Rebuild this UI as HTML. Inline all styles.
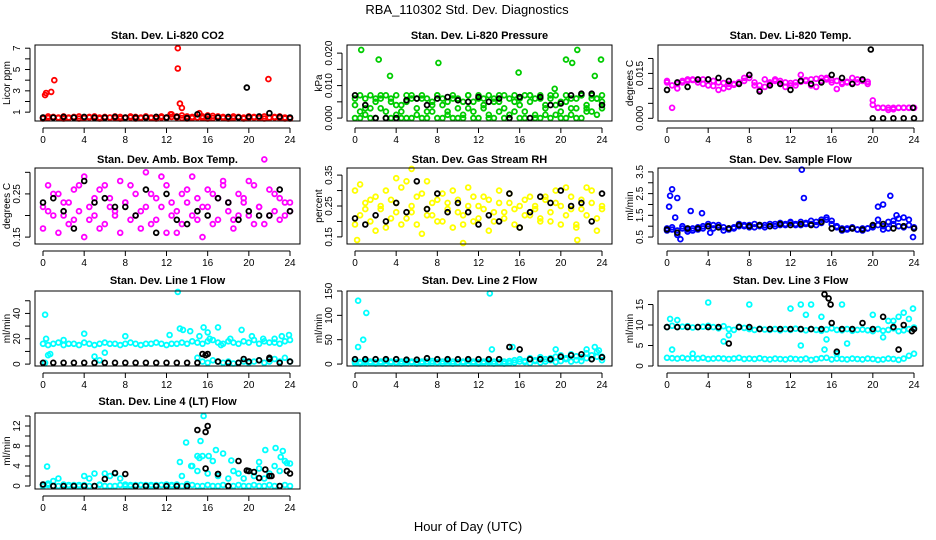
<!DOCTYPE html>
<html><head><meta charset="utf-8"><style>
html,body{margin:0;padding:0;background:#fff;}
svg{display:block;font-family:"Liberation Sans",sans-serif;}
</style></head><body>
<svg id="chart" width="936" height="540" viewBox="0 0 936 540" xmlns="http://www.w3.org/2000/svg">
<text x="467" y="14" font-size="13" text-anchor="middle">RBA_110302  Std. Dev. Diagnostics</text>
<text x="468" y="531" font-size="13" text-anchor="middle">Hour of Day (UTC)</text>
</svg>
<script>
// ---- data ----
const hourTicks=[0,4,8,12,16,20,24];
const co2Red=[0.5,0.6,0.55,0.5,0.6,0.5,0.55,0.6,0.5,0.55,0.6,0.5,0.55,0.5,0.6,0.55,0.5,0.6,0.55,0.5,0.6,0.5,0.55,0.6,0.5,0.55,0.6,0.7,0.6,0.55,0.5,0.6,0.7,0.65,0.6,0.55,0.5,0.6,0.55,0.5,0.6,0.55,0.5,0.6,0.5,0.55,0.6,0.5,0.45];
const co2Red2=[0.4,0.45,0.5,0.45,0.4,0.45,0.5,0.4,0.45,0.5,0.45,0.4,0.45,0.5,0.45,0.4,0.45,0.5,0.4,0.45,0.5,0.45,0.4,0.5,0.45,0.8,0.5,0.45,0.4,0.45,0.5,0.45,0.4,0.45,0.5,0.45,0.4,0.45,0.5,0.4,0.45,0.5,0.45,0.4,0.45,0.5,0.45,0.4,0.4];
const co2RedOutT=[0.2,0.3,0.8,1.1,13.1,13.1,13.3,13.5,21.9,12.4,15.2];
const co2RedOutV=[2.6,2.8,2.9,4.0,7.0,5.1,1.8,1.4,4.1,0.8,0.9];
const co2Black=[0.5,0.5,0.55,0.5,0.55,0.5,0.5,0.55,0.5,0.5,0.5,0.55,0.5,0.55,0.45,0.8,0.6,0.5,0.55,0.5,0.55,0.6,0.9,0.55,0.5];
const co2BlackOutT=[19.8];
const co2BlackOutV=[3.3];

const presGreen=[.004,.002,.006,.003,.005,.007,.002,.006,.001,.004,.005,.007,.003,.006,.002,.005,.007,.004,.001,.006,.003,.005,.007,.002,.006,.004,.001,.005,.007,.003,.006,.002,.004,.007,.005,.001,.006,.003,.007,.004,.002,.005,.006,.003,.007,.004,.002,.006,.005];
const presGreen2=[0,0,.003,0,0,.006,0,0,.004,0,0,0,.006,0,0,.002,0,0,.005,0,0,0,.003,0,0,.006,0,0,.002,0,0,.005,0,0,.007,0,0,.004,0,.001,0,0,.003,0,0,.002,.006,.001,.003];
const presGreen3=[.006,.007,.001,.007,.006,.003,.007,.005,.007,.002,.007,.006,.001,.007,.006,.004,.007,.006,.002,.007,.006,.001,.007,.005,.007,.003,.007,.006,.005,.007,.001,.007,.006,.002,.007,.006,.007,.001,.006,.007,.005,.007,.001,.006,.007,.003,.007,.006,.007];
const presOutT=[0.6,2.3,3.4,8.1,15.9,19.4,20.5,21.1,21.6,23.3,23.9];
const presOutV=[.021,.018,.013,.017,.014,.009,.018,.017,.021,.013,.018];
const presBlack=[.007,.004,0,0,0,.0055,.006,.004,.006,.0065,.0055,.005,.0065,.005,.006,0,.0065,0,.0065,.004,.0045,.007,.0075,.0075,.004];

const tempMag=[0.012,0.011,0.0115,0.012,0.0125,0.013,0.0128,0.013,0.013,0.0125,0.012,0.0118,0.0115,0.0112,0.012,0.0125,0.0135,0.012,0.011,0.0105,0.0115,0.013,0.0125,0.012,0.0118,0.011,0.0122,0.0128,0.013,0.0132,0.0135,0.013,0.0128,0.0125,0.012,0.0122,0.0118,0.012,0.0125,0.0122,0.006,0.0035,0.0035,0.0035,0.003,0.0035,0.0035,0.0035,0.0035];
const tempMag2=[0.0125,0.0035,0.010,0.0125,0.013,0.0128,0.012,0.0115,0.011,0.0108,0.0095,0.01,0.0105,0.0115,0.012,0.0135,0.0145,0.011,0.0095,0.013,0.012,0.0125,0.0118,0.0105,0.011,0.012,0.0145,0.0125,0.011,0.0105,0.0125,0.0135,0.012,0.0098,0.0115,0.012,0.0135,0.013,0.0128,0.0115,0.0045,0.0035,0.0035,0.0028,0.0035,0.0035,0.0035,0.0035,0.0035];
const tempBlack=[.0095,.012,.0105,.013,.013,.0135,.0125,.0115,.0145,.009,.011,.0115,.0095,.0125,.0115,.012,.0145,.0135,.0115,.013,0,0,0,0,0];
const tempBlackOutT=[19.8,23.9];
const tempBlackOutV=[.023,.0035];

const ambMag1=[.22,.27,.2,.25,.23,.18,.26,.21,.29,.19,.24,.17,.27,.22,.2,.28,.23,.19,.25,.21,.3,.18,.24,.22,.27,.2,.16,.25,.23,.29,.19,.22,.26,.18,.24,.28,.21,.19,.25,.23,.2,.27,.22,.18,.26,.21,.24,.2,.23];
const ambMag2=[.17,.21,.25,.16,.2,.23,.19,.27,.15,.22,.2,.26,.18,.24,.21,.16,.23,.27,.2,.17,.22,.25,.19,.29,.16,.23,.21,.18,.26,.2,.24,.15,.22,.25,.19,.27,.23,.17,.2,.24,.28,.18,.22,.33,.2,.25,.19,.23,.21];
const ambBlack=[.23,.24,.21,.17,.28,.23,.24,.22,.22,.2,.26,.16,.25,.19,.18,.21,.2,.24,.23,.19,.21,.2,.2,.26,.21];

const rh1=[.3,.22,.26,.2,.28,.24,.18,.27,.23,.31,.21,.25,.19,.29,.24,.22,.27,.2,.26,.3,.23,.19,.25,.28,.21,.24,.27,.2,.3,.23,.26,.19,.25,.22,.28,.24,.21,.27,.2,.3,.25,.22,.28,.19,.24,.31,.26,.21,.25];
const rh2=[.19,.32,.24,.27,.17,.25,.3,.21,.26,.19,.33,.23,.28,.16,.22,.26,.2,.29,.24,.18,.27,.22,.31,.2,.25,.28,.17,.23,.26,.21,.29,.24,.18,.27,.22,.25,.2,.28,.23,.26,.19,.31,.24,.18,.27,.22,.3,.17,.24];
const rhOutT=[0.2,4.0,5.5,10.5,21.6,7.0];
const rhOutV=[.14,.34,.37,.13,.14,.33];
const rhBlack=[.21,.19,.22,.2,.26,.23,.33,.24,.29,.23,.26,.23,.19,.22,.2,.29,.18,.23,.28,.26,.3,.25,.26,.2,.29];

const sf1=[.9,.85,.8,.9,.75,.9,.85,.9,1.0,1.05,.95,.8,.9,.95,1.0,1.0,1.05,.95,1.0,1.05,1.0,1.1,1.05,1.1,1.15,1.1,1.05,1.15,1.1,1.2,1.15,1.3,1.1,.95,.9,.85,.9,.85,.9,.9,.95,1.05,1.0,.9,1.1,1.0,.95,1.05,.9];
const sf2=[.8,.95,.6,1.0,.85,.8,.95,1.0,1.1,.9,1.05,.95,.85,.9,1.1,1.05,.95,1.1,1.05,.95,1.1,1.0,1.15,1.05,1.2,1.05,1.2,1.1,1.25,1.05,1.3,1.4,1.25,1.0,.8,.9,.95,.85,.8,.9,1.0,1.3,.85,1.2,1.25,1.35,1.4,1.3,.95];
const sfOutT=[0.2,0.3,0.5,0.8,1.0,1.3,2.3,3.4,4.2,13.1,13.3,20.5,21.0,21.7,22.3,23.9];
const sfOutV=[1.9,2.4,2.7,1.4,2.3,.4,1.7,1.6,.7,3.6,2.3,1.9,2.0,2.4,1.5,.5];
const sfBlack=[.85,.7,.9,.9,1.0,.95,.9,1.05,1.0,1.05,1.0,1.1,1.05,1.1,1.05,1.2,.9,.85,.9,.85,1.05,1.1,.9,1.0,.9];

const l1Cyan=[16,15,16,17,15,16,16,15,17,16,15,16,17,16,16,15,16,17,16,15,16,16,17,16,15,16,16,17,16,18,17,16,18,19,17,16,18,17,16,18,17,19,16,18,17,20,16,18,19];
const l1LowT=[15,15.5,16,16.5,17,17.5,18,18.5,19,19.5,20,20.5,21,21.5,22,22.5,23,23.5,24,0.2,0.3,0.5,0.7,5,5.5,6];
const l1LowV=[5,2,1,3,2,1,2,0.5,1,2,1,2,3,1,2,4,2,5,2,1,20,7,8,6,3,9];
const l1OutT=[0.2,2,4,8,12.3,13.1,13.3,13.6,14.3,15.2,15.6,16.0,16.2,17.0,17.3,18.2,19.3,20.3,21.4,22.5,23.2,23.9];
const l1OutV=[39,19,24,22,23,57,28,27,26,22,29,25,20,29,15,20,27,22,20,17,22,23];
const l1Black=[1,1,1,1,1,1,1,1,1,1,1,1,1,1,1,1,8,2,1,1,2,3,4,1,2];
const l1BlackOutT=[15.5,15.8,19.5,22];
const l1BlackOutV=[8,7,4,5];

const l2Cyan=[5,4,6,5,4,5,6,5,4,5,6,5,4,5,5,6,4,5,6,5,4,5,6,5,4,5,6,5,4,5,6,8,10,6,12,8,14,10,12,15,18,12,20,16,14,22,18,25,15];
const l2Cyan2=[2,1,3,2,1,2,1,3,2,1,2,3,1,2,1,2,3,1,2,1,2,3,1,2,1,2,3,1,2,1,2,3,5,4,2,6,3,5,8,4,6,10,5,8,6,12,10,15,8];
const l2OutT=[0.3,0.3,0.8,1.1,13.1,13.3,15.3,19.5,22.5,23.3,23.7];
const l2OutV=[130,35,50,105,145,30,35,30,30,35,28];
const l2Black=[10,10,10,10,10,9,9,12,10,10,10,10,10,10,10,35,30,10,10,10,15,18,20,10,14];

const l3Cyan=[9.5,9.8,9.5,9.6,9.7,9.4,9.5,9.6,9.8,9.5,9.2,9.7,9.0,8.8,9.6,9.3,9.0,8.8,9.1,8.9,8.8,9.0,8.7,9.0,8.8,9.1,8.9,8.7,9.0,8.8,8.6,8.9,9.2,8.8,8.7,9.0,8.6,8.8,8.9,8.7,8.5,9.0,8.6,8.8,9.2,8.5,8.7,9.0,9.4];
const l3Low=[2,1.9,1.8,2,1.8,1.9,1.8,2,1.7,1.8,1.9,1.8,1.7,1.8,2,1.7,1.8,1.7,1.9,1.7,1.6,1.8,1.7,1.6,1.8,1.7,1.6,1.8,1.5,1.7,1.9,2,1.6,1.8,1.7,1.6,1.8,1.7,1.6,1.8,1.7,1.5,1.6,1.8,1.7,1.5,1.8,2.5,3];
const l3OutT=[0.3,0.5,1.0,2.5,4.0,5.5,6.0,8.0,12.0,13.0,13.0,13.5,14.0,15.0,15.3,15.5,16.5,17.0,17.5,20.0,21.0,21.5,22.0,22.5,23.0,23.5,23.9];
const l3OutV=[11.5,4,11.2,3,15.5,6,7.5,15,14,15,5,12.5,15,12,4,6.5,3,15,5.5,12.5,7,11,11,12,13,11.5,14];
const l3Black=[9.5,9.5,9.5,9.5,9.5,9.5,5.5,9.5,9.5,9,9,9,9,9,9,9,10.5,9,9,10.5,9,12,9.5,10,9];
const l3BlackOutT=[15.3,15.7,15.9,16.5,22.5,23.8];
const l3BlackOutV=[17.5,16.5,15,3.5,4,8.5];

const l4Cyan=[0.3,0.5,1,1.5,0.3,0.2,0.2,0.2,2,1.5,2.5,0.3,2.5,2,2.5,1.5,0.3,0.2,0.2,0.2,0.2,0.2,0.2,0.2,0.3,0.2,0.3,2,0.4,4,3,6,2.5,5,2,6.5,1.5,3,2.5,1.5,3,2,3.5,1.5,2.5,4,3,5,4.5];
const l4Zero=[0,0.2,0,0,0.2,0,0,0,0.2,0,0,0.2,0,0,0,0.2,0,0,0,0.2,0,0,0,0.2,0,0,0.2,0,0,0.2,0,0,0.2,0,0,0.2,0,0,0.2,0,0,0.2,0,0,0.2,0,0,0.2,0];
const l4OutT=[0.4,13.3,13.9,14.4,15.0,15.3,15.6,16.1,16.8,18.3,21.0,21.6,22.6,23.1,23.7,23.3,15.2];
const l4OutV=[3.9,4.8,8.7,4,6,9,14,6,7.2,5.1,4.8,7.2,7.6,5.8,4.6,7,5.6];
const l4Black=[0.3,0,0,0,0,0,1.4,2.6,2.4,0,0,0,0,0,0,11.2,12,2.4,0,5,3,1.6,2,0,2.5];
const l4BlackOutT=[15.8,15.8,17,19.8,20.5,21.6,22.2,23.7];
const l4BlackOutV=[10.8,3.5,2.4,3.1,2.8,3.3,2,3];

// ---- layout ----
const cols=[{x0:43,x1:290,bl:35,br:300},{x0:355,x1:602,bl:347,br:612},{x0:667,x1:914,bl:658,br:923}];
const rows=[{t:35,bt:45,bb:121},{t:159,bt:168,bb:244},{t:280,bt:291,bb:366},{t:401,bt:413,bb:489}];
const RED='#ff0000',GRN='#00cc00',MAG='#ff00ff',YEL='#ffff00',BLU='#0000ff',CYN='#00ffff',BLK='#000000';

const panels=[
 {name:'co2',title:'Stan. Dev. Li-820 CO2',ylab:'Licor ppm',c:0,r:0,ymin:0.17,ymax:7.3,ticks:[1,2,3,4,5,6,7],labels:[1,3,5,7],fmt:v=>String(v),
  series:[{col:RED,v:co2Red},{col:RED,v:co2Red2},{col:RED,t:co2RedOutT,v:co2RedOutV},{col:BLK,v:co2Black},{col:BLK,t:co2BlackOutT,v:co2BlackOutV}]},
 {name:'pressure',title:'Stan. Dev. Li-820 Pressure',ylab:'kPa',c:1,r:0,ymin:-0.0009,ymax:0.0225,ticks:[0,0.005,0.01,0.015,0.02],labels:[0,0.01,0.02],fmt:v=>v.toFixed(3),
  series:[{col:GRN,v:presGreen},{col:GRN,v:presGreen2},{col:GRN,v:presGreen3},{col:GRN,t:presOutT,v:presOutV},{col:BLK,v:presBlack}]},
 {name:'temp',title:'Stan. Dev. Li-820 Temp.',ylab:'degrees C',c:2,r:0,ymin:-0.0009,ymax:0.0245,ticks:[0,0.005,0.01,0.015,0.02],labels:[0,0.015],fmt:v=>v.toFixed(3),
  series:[{col:MAG,v:tempMag},{col:MAG,v:tempMag2},{col:BLK,v:tempBlack},{col:BLK,t:tempBlackOutT,v:tempBlackOutV}]},
 {name:'amb-box-temp',title:'Stan. Dev. Amb. Box Temp.',ylab:'degrees C',c:0,r:1,ymin:0.134,ymax:0.31,ticks:[0.15,0.2,0.25,0.3],labels:[0.15,0.25],fmt:v=>v.toFixed(2),
  series:[{col:MAG,v:ambMag1},{col:MAG,v:ambMag2},{col:BLK,v:ambBlack}]},
 {name:'gas-stream-rh',title:'Stan. Dev. Gas Stream RH',ylab:'percent',c:1,r:1,ymin:0.127,ymax:0.373,ticks:[0.15,0.2,0.25,0.3,0.35],labels:[0.15,0.25,0.35],fmt:v=>v.toFixed(2),
  series:[{col:YEL,v:rh1},{col:YEL,v:rh2},{col:YEL,t:rhOutT,v:rhOutV},{col:BLK,v:rhBlack}]},
 {name:'sample-flow',title:'Stan. Dev. Sample Flow',ylab:'ml/min',c:2,r:1,ymin:0.18,ymax:3.68,ticks:[0.5,1,1.5,2,2.5,3,3.5],labels:[0.5,1.5,2.5,3.5],fmt:v=>v.toFixed(1),
  series:[{col:BLU,v:sf1},{col:BLU,v:sf2},{col:BLU,t:sfOutT,v:sfOutV},{col:BLK,v:sfBlack}]},
 {name:'line1-flow',title:'Stan. Dev. Line 1 Flow',ylab:'ml/min',c:0,r:2,ymin:-1.5,ymax:57.7,ticks:[0,10,20,30,40,50],labels:[0,20,40],fmt:v=>String(v),
  series:[{col:CYN,v:l1Cyan},{col:CYN,t:l1LowT,v:l1LowV},{col:CYN,t:l1OutT,v:l1OutV},{col:BLK,v:l1Black},{col:BLK,t:l1BlackOutT,v:l1BlackOutV}]},
 {name:'line2-flow',title:'Stan. Dev. Line 2 Flow',ylab:'ml/min',c:1,r:2,ymin:-4,ymax:150,ticks:[0,50,100,150],labels:[0,50,100,150],fmt:v=>String(v),
  series:[{col:CYN,v:l2Cyan},{col:CYN,v:l2Cyan2},{col:CYN,t:l2OutT,v:l2OutV},{col:BLK,v:l2Black}]},
 {name:'line3-flow',title:'Stan. Dev. Line 3 Flow',ylab:'ml/min',c:2,r:2,ymin:0,ymax:18.3,ticks:[0,5,10,15],labels:[0,5,10,15],fmt:v=>String(v),
  series:[{col:CYN,v:l3Cyan},{col:CYN,v:l3Low},{col:CYN,t:l3OutT,v:l3OutV},{col:BLK,v:l3Black},{col:BLK,t:l3BlackOutT,v:l3BlackOutV}]},
 {name:'line4-flow',title:'Stan. Dev. Line 4 (LT) Flow',ylab:'ml/min',c:0,r:3,ymin:-0.6,ymax:14.6,ticks:[0,2,4,6,8,10,12,14],labels:[0,4,8,12],fmt:v=>String(v),
  series:[{col:CYN,v:l4Zero},{col:CYN,v:l4Cyan},{col:CYN,t:l4OutT,v:l4OutV},{col:BLK,v:l4Black},{col:BLK,t:l4BlackOutT,v:l4BlackOutV}]}
];

const NS='http://www.w3.org/2000/svg';
const svg=document.getElementById('chart');
function mk(tag,attrs,parent){const e=document.createElementNS(NS,tag);for(const k in attrs)e.setAttribute(k,attrs[k]);(parent||svg).appendChild(e);return e;}

panels.forEach(p=>{
  const C=cols[p.c],R=rows[p.r];
  const g=mk('g',{});
  
  
  const xs=h=>C.x0+(h/24)*(C.x1-C.x0);
  const ys=v=>R.bb-(v-p.ymin)/(p.ymax-p.ymin)*(R.bb-R.bt);
  const title=mk('text',{x:(C.bl+C.br)/2,y:R.t+4,'font-size':11,'font-weight':'bold','text-anchor':'middle'},g);
  title.textContent=p.title;
  
  
  const pts=mk('g',{fill:'none','stroke-width':1.8},g);
  
  
  p.series.forEach(s=>{
    s.v.forEach((v,i)=>{
      const h=s.t?s.t[i]:i*24/(s.v.length-1);
      const c=mk('circle',{cx:xs(h).toFixed(1),cy:ys(v).toFixed(1),r:2.4,stroke:s.col},pts);
      
      
    });
  });
  const box=mk('rect',{x:C.bl,y:R.bt,width:C.br-C.bl,height:R.bb-R.bt,fill:'none',stroke:'#000','stroke-width':1},g);
  
  
  const xa=mk('g',{},g);
  
  
  mk('line',{x1:xs(0),x2:xs(24),y1:R.bb+7,y2:R.bb+7,stroke:'#000'},xa);
  hourTicks.forEach(h=>{
    mk('line',{x1:xs(h),x2:xs(h),y1:R.bb+7,y2:R.bb+12,stroke:'#000'},xa);
    const t=mk('text',{x:xs(h),y:R.bb+22,'font-size':10,'text-anchor':'middle'},xa);
    t.textContent=h;
    
    
  });
  const ya=mk('g',{},g);
  
  
  const ax=C.bl-5;
  mk('line',{x1:ax,x2:ax,y1:ys(p.ticks[0]),y2:ys(p.ticks[p.ticks.length-1]),stroke:'#000'},ya);
  p.ticks.forEach(v=>{mk('line',{x1:ax-5,x2:ax,y1:ys(v),y2:ys(v),stroke:'#000'},ya);});
  const tx=C.bl-15;
  p.labels.forEach(v=>{
    const yy=ys(v);
    const t=mk('text',{x:tx,y:yy,'font-size':10,'text-anchor':'middle',transform:`rotate(-90 ${tx} ${yy})`},ya);
    t.textContent=p.fmt(v);
    
    
  });
  const yc=(R.bt+R.bb)/2;
  const lx=C.bl-25;
  const yl=mk('text',{x:lx,y:yc,'font-size':10,'text-anchor':'middle',transform:`rotate(-90 ${lx} ${yc})`},g);
  yl.textContent=p.ylab;
  
  
});
</script>
</body></html>
